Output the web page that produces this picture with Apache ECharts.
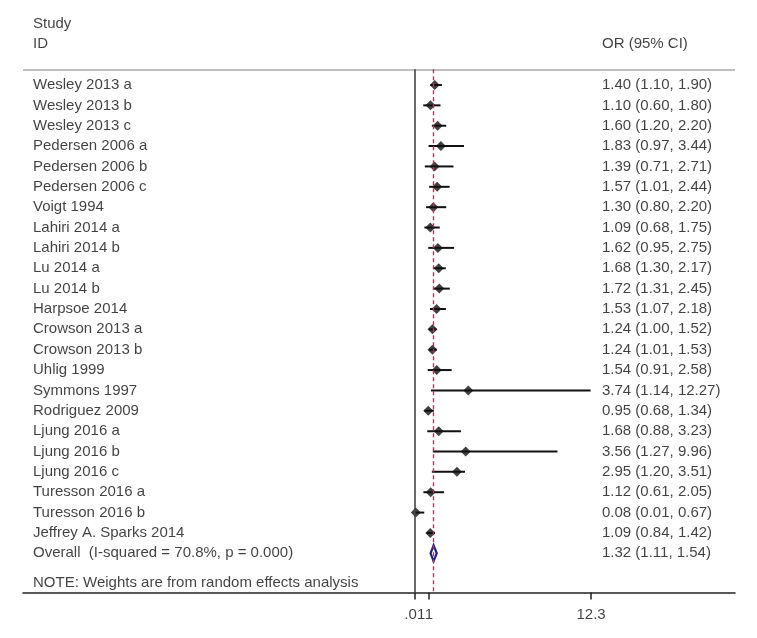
<!DOCTYPE html>
<html>
<head>
<meta charset="utf-8">
<script src="https://cdn.jsdelivr.net/npm/echarts@6/dist/echarts.min.js"></script>
<style>
html,body{margin:0;padding:0;background:#fff;}
#chart{width:757px;height:638px;}
</style>
</head>
<body>
<div id="chart"></div>
<script>
const studies = ["Wesley 2013 a","Wesley 2013 b","Wesley 2013 c","Pedersen 2006 a","Pedersen 2006 b","Pedersen 2006 c","Voigt 1994","Lahiri 2014 a","Lahiri 2014 b","Lu 2014 a","Lu 2014 b","Harpsoe 2014","Crowson 2013 a","Crowson 2013 b","Uhlig 1999","Symmons 1997","Rodriguez 2009","Ljung 2016 a","Ljung 2016 b","Ljung 2016 c","Turesson 2016 a","Turesson 2016 b","Jeffrey A. Sparks 2014"];
const orVals = [1.40,1.10,1.60,1.83,1.39,1.57,1.30,1.09,1.62,1.68,1.72,1.53,1.24,1.24,1.54,3.74,0.95,1.68,3.56,2.95,1.12,0.08,1.09];
const ciLow  = [1.10,0.60,1.20,0.97,0.71,1.01,0.80,0.68,0.95,1.30,1.31,1.07,1.00,1.01,0.91,1.14,0.68,0.88,1.27,1.20,0.61,0.01,0.84];
const ciHigh = [1.90,1.80,2.20,3.44,2.71,2.44,2.20,1.75,2.75,2.17,2.45,2.18,1.52,1.53,2.58,12.27,1.34,3.23,9.96,3.51,2.05,0.67,1.42];
const overallLabel = "Overall  (I-squared = 70.8%, p = 0.000)";
const overallOR = 1.32, overallLow = 1.11, overallHigh = 1.54;
const tickValues = [0.01, 1, 12.3];
const tickLabels = [".01", "1", "12.3"];
const headerLeft = ["Study", "ID"];
const headerRight = "OR (95% CI)";
const noteText = "NOTE: Weights are from random effects analysis";

const xMin = -27.312, xMax = 22.339;
const yMin = -4, yMax = 24.93;
const sepRow = -0.77;
const leftTextX = -26.615, rightTextX = 13.064;
const nullLine = 0.01;
const FONT = "'Liberation Sans', Arial, Helvetica, sans-serif";
const TXT = '#111111';

const fmt = (o,l,h) => `${o.toFixed(2)} (${l.toFixed(2)}, ${h.toFixed(2)})`;

const nRows = studies.length;
const overallRow = nRows;
const noteRow = 24.46;

const leftText = [];
leftText.push({value:[leftTextX,-3], name: headerLeft[0]});
leftText.push({value:[leftTextX,-2], name: headerLeft[1]});
studies.forEach((s,i)=>leftText.push({value:[leftTextX,i], name:s}));
leftText.push({value:[leftTextX,overallRow], name: overallLabel});
leftText.push({value:[leftTextX,noteRow], name: noteText});

const rightText = [];
rightText.push({value:[rightTextX,-2], name: headerRight});
studies.forEach((s,i)=>rightText.push({value:[rightTextX,i], name: fmt(orVals[i],ciLow[i],ciHigh[i])}));
rightText.push({value:[rightTextX,overallRow], name: fmt(overallOR,overallLow,overallHigh)});

const tickText = tickValues.map((v,k)=>({value:[v,yMax], name: tickLabels[k]}));

const ciData = studies.map((s,i)=>[ciLow[i],ciHigh[i],i]);
const ptData = studies.map((s,i)=>[orVals[i],i]);

const textLabel = {
  show:true, position:'right', distance:0, formatter: p=>p.name,
  fontFamily: FONT, fontSize:15, color: TXT
};

const chart = echarts.init(document.getElementById('chart'), null, {renderer:'canvas'});
chart.setOption({
  animation:false,
  backgroundColor:'#fff',
  grid:{left:23, right:22, top:3.56, bottom:45.4},
  xAxis:{
    type:'value', min:xMin, max:xMax,
    splitLine:{show:false},
    axisLine:{show:true, onZero:false, lineStyle:{color:'#222', width:1.5}},
    axisTick:{show:true, customValues: tickValues, length:7, lineStyle:{color:'#222', width:1.5}},
    axisLabel:{show:false}
  },
  yAxis:{type:'value', min:yMin, max:yMax, inverse:true, show:false, splitLine:{show:false}},
  series:[
    {
      type:'scatter', symbolSize:0, data:leftText, label:textLabel, silent:true, z:5,
      markLine:{
        silent:true, symbol:'none', label:{show:false},
        data:[
          [{coord:[xMin,sepRow], lineStyle:{color:'#aaaaaa', width:1.5, type:'solid'}},{coord:[xMax,sepRow]}],
          [{coord:[nullLine,sepRow], lineStyle:{color:'#444', width:1.6, type:'solid'}},{coord:[nullLine,yMax]}],
          [{coord:[overallOR,sepRow], lineStyle:{color:'#a83c55', width:1.4, type:[4,3]}},{coord:[overallOR,yMax]}]
        ]
      }
    },
    {type:'scatter', symbolSize:0, data:rightText, label:textLabel, silent:true, z:5},
    {type:'scatter', symbolSize:0, data:tickText, silent:true, z:5,
      label:{show:true, position:'bottom', distance:15, formatter:p=>p.name, fontFamily:FONT, fontSize:15, color:TXT}},
    {
      type:'custom', data:ciData, z:3,
      renderItem:(params, api)=>{
        const a = api.coord([api.value(0), api.value(2)]);
        const b = api.coord([api.value(1), api.value(2)]);
        return {type:'line', shape:{x1:a[0],y1:a[1],x2:b[0],y2:b[1]}, style:{stroke:'#111', lineWidth:2}};
      }
    },
    {
      type:'scatter', data:ptData, symbol:'diamond', symbolSize:[10,10], z:4,
      itemStyle:{color:'#111'}
    },
    {
      type:'custom', data:[[overallLow, overallOR, overallHigh, overallRow]], z:4,
      renderItem:(params, api)=>{
        const r = api.value(3);
        const l = api.coord([api.value(0), r]);
        const m = api.coord([api.value(1), r]);
        const h = api.coord([api.value(2), r]);
        const dy = 8;
        return {type:'polygon', shape:{points:[[l[0],l[1]],[m[0],m[1]-dy],[h[0],h[1]],[m[0],m[1]+dy]]},
          style:{fill:'#fff', stroke:'#1f1f80', lineWidth:2.2}};
      }
    }
  ]
});
</script>
</body>
</html>
